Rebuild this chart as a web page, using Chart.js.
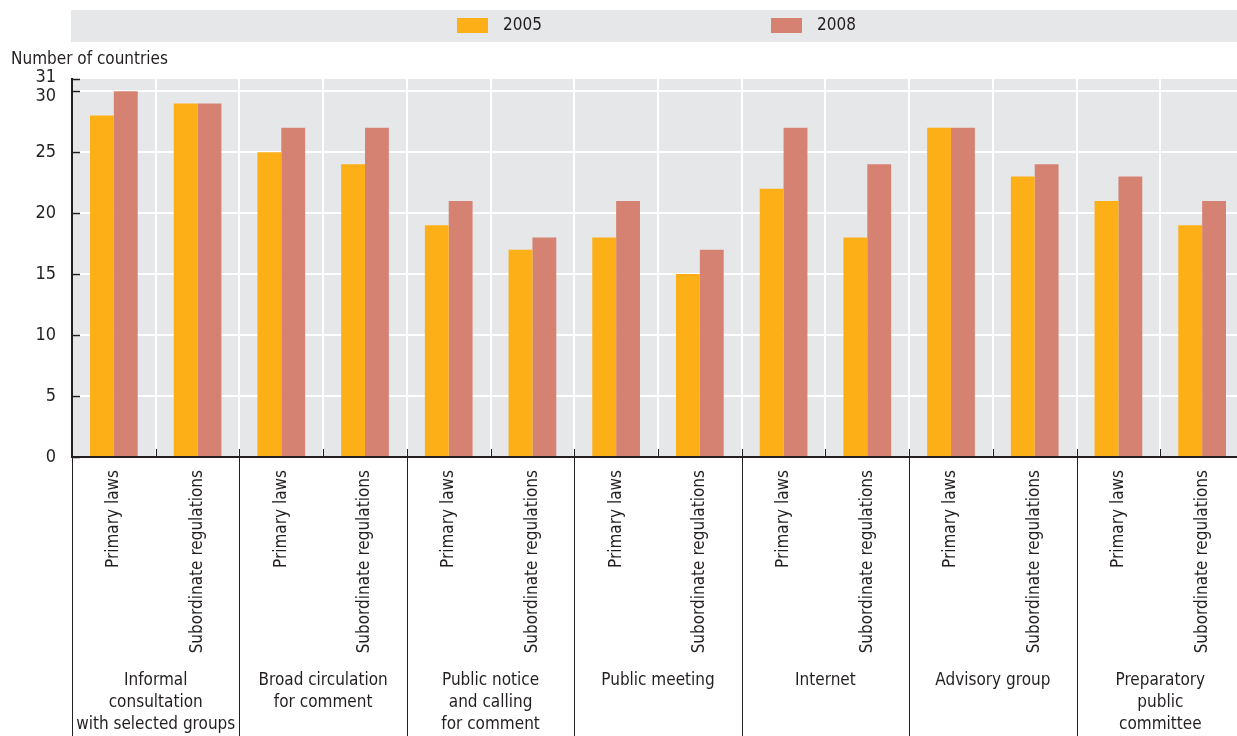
<!DOCTYPE html>
<html>
<head>
<meta charset="utf-8">
<script src="https://cdn.jsdelivr.net/npm/chart.js@4/dist/chart.umd.min.js"></script>
<style>
  body { margin: 0; background: #fff; overflow: hidden; }
  #wrap { width: 1244px; height: 736px; position: relative; }
</style>
</head>
<body>
<div id="wrap"><canvas id="chart"></canvas></div>
<script>
const categories = [
    'Primary laws', 'Subordinate regulations',
    'Primary laws', 'Subordinate regulations',
    'Primary laws', 'Subordinate regulations',
    'Primary laws', 'Subordinate regulations',
    'Primary laws', 'Subordinate regulations',
    'Primary laws', 'Subordinate regulations',
    'Primary laws', 'Subordinate regulations'
];
const groupLabels = [
    ['Informal', 'consultation', 'with selected groups'],
    ['Broad circulation', 'for comment'],
    ['Public notice', 'and calling', 'for comment'],
    ['Public meeting'],
    ['Internet'],
    ['Advisory group'],
    ['Preparatory', 'public', 'committee']
];
const values2005 = [28, 29, 25, 24, 19, 17, 18, 15, 22, 18, 27, 23, 21, 19];
const values2008 = [30, 29, 27, 27, 21, 18, 21, 17, 27, 24, 27, 24, 23, 21];
const yTicks = [0, 5, 10, 15, 20, 25, 30, 31];
const seriesNames = ['2005', '2008'];

const colors = ['#fdaf18', '#d58273'];
const panelGray = '#e6e7e9';
const ink = '#231f20';
const fontFamily = "'Liberation Sans Narrow', 'DejaVu Sans Condensed', 'Roboto', sans-serif";

Chart.defaults.font.family = fontFamily;
Chart.defaults.color = ink;

// backgrounds, legend band, custom ticks and group labels
const decor = {
    id: 'decor',
    beforeDraw(chart) {
        const ctx = chart.ctx;
        const a = chart.chartArea;
        ctx.save();
        ctx.fillStyle = panelGray;
        ctx.fillRect(71, 10, chart.width - 71, 32);
        ctx.fillRect(a.left, a.top, a.right - a.left, a.bottom - a.top);
        ctx.restore();
    },
    afterDraw(chart) {
        const ctx = chart.ctx;
        const a = chart.chartArea;
        const y = chart.scales.y;
        ctx.save();

        // legend
        const legendX = [457, 771];
        ctx.font = '17px ' + fontFamily;
        ctx.textBaseline = 'middle';
        ctx.textAlign = 'left';
        seriesNames.forEach((name, i) => {
            ctx.fillStyle = colors[i];
            ctx.fillRect(legendX[i], 18, 31, 15);
            ctx.fillStyle = ink;
            ctx.fillText(name, legendX[i] + 46, 26);
        });

        // y title
        ctx.font = '17px ' + fontFamily;
        ctx.fillText('Number of countries', 11, 60);

        // y tick labels (30 and 31 pushed apart like the original)
        ctx.font = '18px ' + fontFamily;
        ctx.textAlign = 'right';
        yTicks.forEach(v => {
            let py = y.getPixelForValue(v);
            if (v == 31) py -= 2;
            if (v == 30) py += 5;
            ctx.fillText(String(v), 56, py);
        });

        // inward y ticks
        ctx.strokeStyle = ink;
        ctx.lineWidth = 1.5;
        yTicks.forEach(v => {
            const py = Math.round(y.getPixelForValue(v)) + 0.5;
            ctx.beginPath();
            ctx.moveTo(a.left, py);
            ctx.lineTo(a.left + 8, py);
            ctx.stroke();
        });

        // category ticks and group separators
        const step = (a.right - a.left) / categories.length;
        ctx.lineWidth = 1;
        for (let i = 0; i < categories.length; i++) {
            const px = Math.round(a.left + i * step) + 0.5;
            ctx.beginPath();
            ctx.moveTo(px, a.bottom - 8);
            ctx.lineTo(px, i % 2 == 0 ? chart.height : a.bottom);
            ctx.stroke();
        }

        // group labels
        ctx.font = '17px ' + fontFamily;
        ctx.textAlign = 'center';
        ctx.fillStyle = ink;
        groupLabels.forEach((lines, g) => {
            const cx = a.left + (g * 2 + 1) * step;
            lines.forEach((line, k) => {
                ctx.fillText(line, cx, 681 + k * 22);
            });
        });
        ctx.restore();
    }
};

new Chart(document.getElementById('chart'), {
    type: 'bar',
    data: {
        labels: categories,
        datasets: [
            {
                label: seriesNames[0],
                data: values2005,
                backgroundColor: colors[0],
                categoryPercentage: 0.57,
                barPercentage: 1.0,
            },
            {
                label: seriesNames[1],
                data: values2008,
                backgroundColor: colors[1],
                categoryPercentage: 0.57,
                barPercentage: 1.0,
            },
        ],
    },
    options: {
        responsive: true,
        maintainAspectRatio: false,
        animation: false,
        layout: {
            padding: { top: 79, right: 0, left: 0, bottom: 0 },
        },
        plugins: {
            legend: { display: false },
            tooltip: { enabled: false },
        },
        scales: {
            x: {
                grid: {
                    color: '#ffffff',
                    lineWidth: 2,
                    drawTicks: false,
                },
                border: { display: true, color: ink, width: 2 },
                ticks: {
                    minRotation: 90,
                    maxRotation: 90,
                    autoSkip: false,
                    padding: 13,
                    font: { size: 17 },
                    color: ink,
                },
                afterFit(scale) {
                    scale.height = 279;
                },
            },
            y: {
                min: 0,
                max: 31,
                afterBuildTicks(scale) {
                    scale.ticks = yTicks.map(v => ({ value: v }));
                },
                grid: {
                    color: (c) => (c.tick && c.tick.value == 31) ? 'rgba(0,0,0,0)' : '#ffffff',
                    lineWidth: 2,
                    drawTicks: false,
                },
                border: { display: true, color: ink, width: 2 },
                ticks: {
                    display: false,
                },
                afterFit(scale) {
                    scale.width = 72;
                },
            },
        },
    },
    plugins: [decor],
});
</script>
</body>
</html>
